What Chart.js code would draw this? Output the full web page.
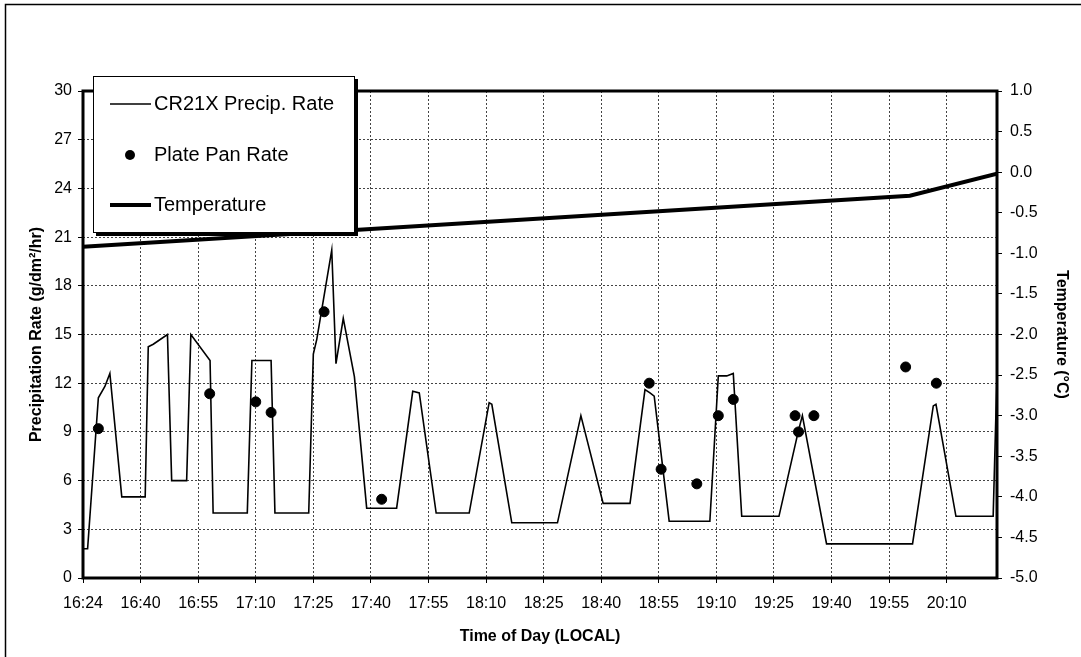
<!DOCTYPE html>
<html>
<head>
<meta charset="utf-8">
<script src="https://cdn.jsdelivr.net/npm/chart.js@4.4.1/dist/chart.umd.min.js"></script>
<style>
  body { margin: 0; background: #fff; }
  #wrap { width: 1081px; height: 657px; position: relative; }
</style>
</head>
<body>
<div id="wrap"><canvas id="chart"></canvas></div>
<script>
// time values are minutes after 16:00 local
const tickLabels = ['16:24', '16:40', '16:55', '17:10', '17:25', '17:40', '17:55', '18:10',
    '18:25', '18:40', '18:55', '19:10', '19:25', '19:40', '19:55', '20:10'];

const precipTimes = [24.6, 25.7, 28.5, 30.2, 31.5, 34.6, 40.7, 41.5, 42.8, 46.5, 47.6, 51.5,
    52.6, 57.6, 58.4, 67.3, 68.5, 73.5, 74.5, 83.3, 84.5, 85.4, 89.3, 90.4, 92.3, 95.2,
    98.4, 106.2, 110.4, 112.1, 116.5, 125.1, 130.3, 131.0, 136.2, 148.1, 154.2, 160.0,
    167.0, 170.9, 172.2, 173.3, 177.2, 187.8, 190.0, 192.2, 193.9, 196.1, 205.8, 210.8,
    211.9, 218.2, 240.6, 246.0, 246.7, 251.9, 261.6, 262.6];
const precipRate = [1.8, 1.8, 11.1, 11.8, 12.6, 5.0, 5.0, 14.25, 14.4, 15.0, 6.0, 6.0,
    15.0, 13.4, 4.0, 4.0, 13.4, 13.4, 4.0, 4.0, 13.8, 14.7, 20.2, 13.2, 16.0, 12.4,
    4.3, 4.3, 11.5, 11.4, 4.0, 4.0, 10.8, 10.7, 3.4, 3.4, 10.0, 4.6,
    4.6, 11.6, 11.4, 11.2, 3.5, 3.5, 12.45, 12.45, 12.6, 3.8, 3.8, 9.0,
    10.0, 2.1, 2.1, 10.6, 10.7, 3.8, 3.8, 12.6];

const plateTimes = [28.5, 57.5, 69.5, 73.5, 87.3, 102.3, 172.0, 175.1, 184.4, 190.0,
    193.9, 210.0, 210.9, 214.9, 238.8, 246.8];
const plateRate = [9.2, 11.35, 10.85, 10.2, 16.4, 4.85, 12.0, 6.7, 5.8, 10.0,
    11.0, 10.0, 9.0, 10.0, 13.0, 12.0];

const tempTimes = [24.5, 239.9, 262.6];
const tempValues = [-0.92, -0.29, -0.02];

const xMin = 24.5;
const xMax = 262.6;

function pairs(xs, ys) {
    return xs.map((x, i) => ({ x: x, y: ys[i] }));
}

Chart.defaults.font.family = "'Liberation Sans', Arial, sans-serif";
Chart.defaults.color = '#000';

const frameAndLegend = {
    id: 'frameAndLegend',
    beforeDraw(chart) {
        const ctx = chart.ctx;
        ctx.save();
        ctx.fillStyle = '#fff';
        ctx.fillRect(0, 0, chart.width, chart.height);
        ctx.strokeStyle = '#000';
        ctx.lineWidth = 1.5;
        ctx.strokeRect(5.5, 4.5, 1200, 800);
        ctx.restore();
    },
    beforeDatasetsDraw(chart) {
        const a = chart.chartArea;
        const ctx = chart.ctx;
        ctx.save();
        ctx.strokeStyle = '#000';
        ctx.lineWidth = 3;
        ctx.strokeRect(a.left, a.top, a.right - a.left, a.bottom - a.top);
        ctx.restore();
    },
    afterDraw(chart) {
        const ctx = chart.ctx;
        const ds = chart.data.datasets;
        ctx.save();
        // box with shadow
        ctx.fillStyle = '#000';
        ctx.fillRect(96, 79, 262, 157);
        ctx.fillStyle = '#fff';
        ctx.fillRect(93, 76, 262, 157);
        ctx.strokeStyle = '#000';
        ctx.lineWidth = 1;
        ctx.strokeRect(93.5, 76.5, 261, 156);

        ctx.font = "20px 'Liberation Sans', Arial, sans-serif";
        ctx.textBaseline = 'middle';
        ctx.fillStyle = '#000';

        // precip line
        ctx.lineWidth = 1.5;
        ctx.beginPath();
        ctx.moveTo(110, 104);
        ctx.lineTo(151, 104);
        ctx.stroke();
        ctx.fillText(ds[0].label, 154, 104);

        // plate pan dot
        ctx.beginPath();
        ctx.arc(130, 155, 5, 0, Math.PI * 2);
        ctx.fill();
        ctx.fillText(ds[1].label, 154, 155);

        // temperature
        ctx.lineWidth = 4;
        ctx.beginPath();
        ctx.moveTo(110, 205);
        ctx.lineTo(151, 205);
        ctx.stroke();
        ctx.fillText(ds[2].label, 154, 205);
        ctx.restore();
    }
};

const ctx = document.getElementById('chart');

new Chart(ctx, {
    type: 'line',
    data: {
        datasets: [{
            label: 'CR21X Precip. Rate',
            data: pairs(precipTimes, precipRate),
            borderColor: '#000',
            borderWidth: 1.6,
            pointRadius: 0,
            tension: 0,
            yAxisID: 'y'
        }, {
            label: 'Plate Pan Rate',
            type: 'scatter',
            data: pairs(plateTimes, plateRate),
            backgroundColor: '#000',
            borderColor: '#000',
            pointRadius: 5,
            showLine: false,
            yAxisID: 'y'
        }, {
            label: 'Temperature',
            data: pairs(tempTimes, tempValues),
            borderColor: '#000',
            borderWidth: 4,
            pointRadius: 0,
            tension: 0,
            yAxisID: 'y2'
        }]
    },
    options: {
        responsive: true,
        maintainAspectRatio: false,
        animation: false,
        layout: {
            padding: { top: 91, left: 0, right: 0, bottom: 0 }
        },
        plugins: {
            legend: { display: false },
            tooltip: { enabled: false }
        },
        scales: {
            x: {
                type: 'linear',
                min: xMin,
                max: xMax,
                afterBuildTicks(scale) {
                    scale.ticks = tickLabels.map((l, i) => ({ value: xMin + 15 * i }));
                },
                afterFit(scale) { scale.height = 79; },
                ticks: {
                    autoSkip: false,
                    maxRotation: 0,
                    padding: 11,
                    font: { size: 16 },
                    callback: (v, i) => tickLabels[i]
                },
                grid: {
                    color: '#444',
                    lineWidth: 1,
                    tickBorderDash: [],
                    tickColor: '#000',
                    tickLength: 5
                },
                border: { display: false, dash: [2, 2] },
                title: {
                    display: true,
                    text: 'Time of Day (LOCAL)',
                    font: { size: 16, weight: 'bold' },
                    padding: { top: 0, bottom: 11 }
                }
            },
            y: {
                position: 'left',
                min: 0,
                max: 30,
                afterFit(scale) { scale.width = 83; },
                ticks: {
                    stepSize: 3,
                    padding: 6,
                    font: { size: 16 }
                },
                grid: {
                    color: '#444',
                    lineWidth: 1,
                    tickBorderDash: [],
                    tickColor: '#000',
                    tickLength: 5
                },
                border: { display: false, dash: [2, 2] },
                title: {
                    display: true,
                    text: 'Precipitation Rate (g/dm²/hr)',
                    font: { size: 16, weight: 'bold' },
                    padding: { top: 27, bottom: 0 }
                }
            },
            y2: {
                position: 'right',
                min: -5,
                max: 1,
                afterFit(scale) { scale.width = 84; },
                ticks: {
                    stepSize: 0.5,
                    padding: 8,
                    font: { size: 16 },
                    callback: v => v.toFixed(1)
                },
                grid: {
                    drawOnChartArea: false,
                    tickColor: '#000',
                    tickLength: 5
                },
                border: { display: false },
                title: {
                    display: true,
                    text: 'Temperature (°C)',
                    font: { size: 16, weight: 'bold' },
                    padding: { top: 10, bottom: 0 }
                }
            }
        }
    },
    plugins: [frameAndLegend]
});
</script>
</body>
</html>
